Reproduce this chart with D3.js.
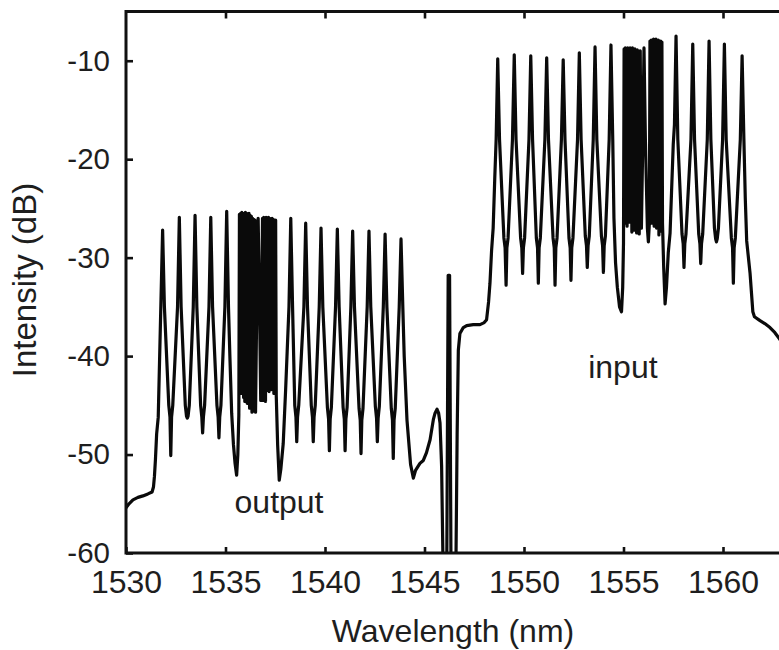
<!DOCTYPE html>
<html>
<head>
<meta charset="utf-8">
<script src="https://cdn.jsdelivr.net/npm/d3@7"></script>
<style>
  body { margin: 0; background: #fff; }
  svg { display: block; }
  text { font-family: "Liberation Sans", Arial, Helvetica, sans-serif; fill: #1e1e1e; }
</style>
</head>
<body>
<svg id="chart" width="779" height="650"></svg>
<script>
// Axis ticks
const xTicks = [1530, 1535, 1540, 1545, 1550, 1555, 1560];
const yTicks = [-60, -50, -40, -30, -20, -10];

// Spectrum trace, [wavelength (nm), intensity (dB)], split by region
const baseLeft = [
  [1530.00,-55.4],[1530.15,-55.0],[1530.35,-54.6],[1530.60,-54.35],[1530.85,-54.2],[1531.10,-54.0],
  [1531.31,-53.8],[1531.38,-53.3],[1531.43,-52.2],[1531.48,-50.5],[1531.54,-47.9],[1531.62,-46.2],[1531.68,-41.0]
];

const outputComb = [
  [1531.75,-35.0],[1531.84,-27.2],[1531.93,-35.0],
  [1532.15,-45.0],[1532.21,-46.2],[1532.25,-50.1],[1532.29,-46.2],[1532.35,-45.0],
  [1532.59,-35.0],[1532.68,-25.9],[1532.77,-35.0],
  [1532.98,-45.0],[1533.04,-46.1],[1533.08,-46.3],[1533.12,-46.1],[1533.18,-45.0],
  [1533.38,-35.0],[1533.47,-25.7],[1533.56,-35.0],
  [1533.75,-45.0],[1533.81,-46.2],[1533.85,-47.8],[1533.89,-46.2],[1533.95,-45.0],
  [1534.17,-35.0],[1534.26,-25.9],[1534.35,-35.0],
  [1534.57,-45.0],[1534.63,-46.2],[1534.67,-48.3],[1534.71,-46.2],[1534.77,-45.0],
  [1534.97,-35.0],[1535.06,-25.3],[1535.15,-35.0],
  [1535.22,-40.0],[1535.31,-45.8],[1535.40,-49.0],[1535.48,-50.9],[1535.56,-52.1],[1535.62,-50.0],[1535.67,-46.0],
  [1535.70,-25.6],[1535.73,-43.2],[1535.76,-25.5],[1535.79,-43.8],[1535.82,-25.4],[1535.85,-43.0],[1535.88,-25.5],
  [1535.91,-44.2],[1535.94,-25.6],[1535.97,-44.6],[1536.00,-25.4],[1536.03,-44.0],[1536.06,-25.5],[1536.09,-44.8],
  [1536.12,-25.6],[1536.15,-44.4],[1536.18,-25.5],[1536.21,-45.3],[1536.24,-25.7],[1536.27,-45.0],[1536.30,-25.8],
  [1536.33,-45.7],[1536.36,-26.0],[1536.39,-45.2],[1536.42,-26.1],[1536.45,-45.6],[1536.48,-26.2],
  [1536.51,-45.7],[1536.57,-35.0],[1536.64,-26.0],[1536.71,-35.0],[1536.77,-44.5],
  [1536.86,-26.0],[1536.89,-44.5],[1536.92,-25.9],[1536.95,-44.0],[1536.98,-26.0],[1537.01,-44.6],[1537.04,-25.9],
  [1537.07,-43.5],[1537.10,-26.0],[1537.13,-43.2],[1537.16,-25.9],[1537.19,-43.6],[1537.22,-26.0],[1537.25,-43.0],
  [1537.28,-26.1],[1537.31,-43.4],[1537.34,-26.0],[1537.37,-43.2],[1537.40,-26.1],[1537.43,-43.8],[1537.46,-26.2],
  [1537.49,-43.5],[1537.52,-26.2],[1537.55,-44.0],
  [1537.62,-49.0],[1537.70,-52.6],[1537.78,-51.5],[1537.90,-48.9],[1538.02,-43.5],[1538.10,-39.5],
  [1538.19,-35.0],[1538.28,-26.0],[1538.37,-35.0],
  [1538.48,-45.0],[1538.54,-46.2],[1538.58,-48.7],[1538.62,-46.2],[1538.68,-45.0],
  [1538.94,-35.0],[1539.03,-26.5],[1539.12,-35.0],
  [1539.31,-45.0],[1539.37,-46.2],[1539.41,-48.7],[1539.45,-46.2],[1539.51,-45.0],
  [1539.71,-35.0],[1539.80,-27.0],[1539.89,-35.0],
  [1540.12,-45.2],[1540.18,-46.4],[1540.22,-49.6],[1540.26,-46.4],[1540.32,-45.2],
  [1540.53,-35.0],[1540.62,-27.1],[1540.71,-35.0],
  [1540.91,-45.2],[1540.97,-46.4],[1541.01,-49.6],[1541.05,-46.4],[1541.11,-45.2],
  [1541.30,-35.0],[1541.39,-27.3],[1541.48,-35.0],
  [1541.71,-45.3],[1541.77,-46.5],[1541.81,-49.9],[1541.85,-46.5],[1541.91,-45.3],
  [1542.12,-35.0],[1542.21,-27.3],[1542.30,-35.0],
  [1542.53,-45.1],[1542.59,-46.3],[1542.63,-48.7],[1542.67,-46.3],[1542.73,-45.1],
  [1542.93,-35.0],[1543.02,-27.6],[1543.11,-35.0],
  [1543.33,-45.3],[1543.39,-46.5],[1543.43,-50.4],[1543.47,-46.5],[1543.53,-45.3],
  [1543.73,-35.0],[1543.82,-28.1],[1543.91,-35.0]
];

const gapRegion = [
  [1543.98,-40.0],[1544.12,-46.5],[1544.30,-51.0],[1544.44,-52.4],[1544.55,-51.6],[1544.77,-50.9],
  [1544.94,-50.6],[1545.10,-49.8],[1545.28,-48.5],[1545.45,-46.4],[1545.53,-45.8],[1545.63,-45.4],
  [1545.71,-45.8],[1545.78,-46.8],[1545.86,-51.2],[1545.93,-61.0],[1546.12,-61.0],[1546.19,-31.8],
  [1546.26,-31.8],[1546.33,-61.0],[1546.58,-61.0],[1546.64,-48.0],[1546.70,-39.4],[1546.78,-37.7],
  [1546.95,-37.1],[1547.12,-36.9],[1547.45,-36.8],[1547.79,-36.8],[1548.00,-36.6],[1548.12,-36.3],
  [1548.22,-34.5],[1548.29,-32.6],[1548.37,-29.3],[1548.45,-27.0],[1548.53,-22.0]
];

const inputComb = [
  [1548.60,-18.0],[1548.68,-9.8],[1548.77,-18.0],
  [1548.99,-28.0],[1549.05,-29.0],[1549.10,-32.8],[1549.14,-29.0],[1549.20,-28.0],
  [1549.42,-18.0],[1549.51,-9.4],[1549.60,-18.0],
  [1549.83,-28.0],[1549.89,-29.0],[1549.93,-31.6],[1549.97,-29.0],[1550.03,-28.0],
  [1550.25,-18.0],[1550.34,-9.5],[1550.43,-18.0],
  [1550.62,-28.0],[1550.68,-29.0],[1550.72,-32.6],[1550.76,-29.0],[1550.82,-28.0],
  [1551.05,-18.0],[1551.14,-9.7],[1551.23,-18.0],
  [1551.46,-28.0],[1551.52,-29.0],[1551.56,-32.8],[1551.60,-29.0],[1551.66,-28.0],
  [1551.88,-18.0],[1551.97,-9.9],[1552.06,-18.0],
  [1552.26,-28.0],[1552.32,-29.0],[1552.36,-32.3],[1552.40,-29.0],[1552.46,-28.0],
  [1552.69,-18.0],[1552.78,-9.2],[1552.87,-18.0],
  [1553.08,-27.8],[1553.14,-28.8],[1553.18,-31.0],[1553.22,-28.8],[1553.28,-27.8],
  [1553.48,-18.0],[1553.57,-8.6],[1553.66,-18.0],
  [1553.89,-27.8],[1553.95,-28.8],[1553.99,-31.5],[1554.03,-28.8],[1554.09,-27.8],
  [1554.28,-18.0],[1554.37,-8.4],[1554.46,-18.0],
  [1554.52,-26.0],[1554.60,-30.5],[1554.69,-33.0],[1554.80,-35.0],[1554.90,-35.5],[1554.96,-33.0],[1555.00,-28.5],
  [1555.03,-8.8],[1555.06,-26.5],[1555.09,-8.7],[1555.12,-26.2],[1555.15,-8.8],[1555.18,-26.8],[1555.21,-8.7],
  [1555.24,-26.0],[1555.27,-8.8],[1555.30,-26.4],[1555.33,-8.7],[1555.36,-26.2],[1555.39,-8.8],[1555.42,-27.4],
  [1555.45,-8.7],[1555.48,-26.6],[1555.51,-8.8],[1555.54,-27.2],[1555.57,-8.8],[1555.60,-26.3],[1555.63,-8.9],
  [1555.66,-27.5],[1555.69,-8.9],[1555.72,-26.8],[1555.75,-9.0],
  [1555.79,-27.6],[1555.84,-9.0],[1555.90,-27.0],[1555.97,-18.0],[1556.03,-8.7],[1556.10,-18.0],
  [1556.20,-27.0],[1556.25,-28.4],[1556.30,-26.5],
  [1556.33,-8.0],[1556.36,-26.0],[1556.39,-7.9],[1556.42,-26.5],[1556.45,-7.9],[1556.48,-25.9],[1556.51,-7.8],
  [1556.54,-26.8],[1556.57,-7.9],[1556.60,-26.2],[1556.63,-7.8],[1556.66,-27.0],[1556.69,-7.9],[1556.72,-26.4],
  [1556.75,-7.9],[1556.78,-27.7],[1556.81,-8.0],[1556.84,-26.6],[1556.87,-8.0],[1556.90,-27.3],[1556.93,-8.1],
  [1556.96,-26.5],
  [1557.02,-31.0],[1557.09,-34.7],[1557.16,-33.0],[1557.25,-29.5],[1557.34,-27.5],[1557.50,-18.5],
  [1557.56,-16.5],[1557.64,-7.5],[1557.73,-18.0],
  [1557.94,-27.6],[1558.00,-28.6],[1558.04,-31.0],[1558.08,-28.6],[1558.14,-27.6],
  [1558.39,-18.0],[1558.48,-8.3],[1558.57,-18.0],
  [1558.78,-27.6],[1558.84,-28.6],[1558.88,-30.6],[1558.92,-28.6],[1558.98,-27.6],
  [1559.21,-18.0],[1559.30,-8.0],[1559.39,-18.0],
  [1559.57,-27.0],[1559.63,-28.1],[1559.67,-28.4],[1559.71,-28.1],[1559.77,-27.0],
  [1559.98,-18.0],[1560.07,-8.3],[1560.16,-18.0],
  [1560.42,-28.0],[1560.48,-29.0],[1560.52,-32.6],[1560.56,-29.0],[1560.62,-28.0],
  [1560.87,-18.0],[1560.96,-9.5],[1561.05,-18.0]
];

const tailRight = [
  [1561.12,-24.0],[1561.19,-28.3],[1561.36,-31.6],[1561.50,-35.5],[1561.58,-36.0],[1561.86,-36.4],
  [1562.10,-36.7],[1562.36,-37.1],[1562.60,-37.6],[1562.78,-38.1],[1563.00,-38.7],[1563.40,-39.6]
];

// Curve annotations, anchored in data coordinates
const annotations = [
  { text: "output", wl: 1537.69, db: -55.9 },
  { text: "input",  wl: 1554.97, db: -42.2 }
];

const spectrum = [...baseLeft, ...outputComb, ...gapRegion, ...inputComb, ...tailRight];

// Layout
const svg = d3.select("#chart");
const plotLeft = 126, plotTop = 11.5, plotBottom = 553;
const pxPerNm = 19.9;

const x = d3.scaleLinear().domain([1530, 1565]).range([plotLeft, plotLeft + 35 * pxPerNm]);
const y = d3.scaleLinear().domain([-60, -5]).range([plotBottom, plotTop]);

svg.append("defs").append("clipPath").attr("id", "plotClip")
  .append("rect")
  .attr("x", plotLeft).attr("y", plotTop)
  .attr("width", x(1565) - plotLeft).attr("height", plotBottom - plotTop);

// Trace
const line = d3.line().x(d => x(d[0])).y(d => y(d[1])).curve(d3.curveLinear);
svg.append("path")
  .datum(spectrum)
  .attr("clip-path", "url(#plotClip)")
  .attr("fill", "none")
  .attr("stroke", "#0a0a0a")
  .attr("stroke-width", 3.2)
  .attr("stroke-linejoin", "round")
  .attr("stroke-linecap", "round")
  .attr("d", line);

const plainInt = d => String(d);

// Bottom axis, ticks pointing into the plot
const xAxis = svg.append("g")
  .attr("transform", `translate(0,${plotBottom})`)
  .call(d3.axisBottom(x).tickValues(xTicks).tickFormat(plainInt)
    .tickSizeInner(-6).tickSizeOuter(0).tickPadding(17.3));
xAxis.select(".domain").remove();
xAxis.selectAll(".tick line").attr("stroke", "#111").attr("stroke-width", 2.6);
xAxis.selectAll(".tick text").attr("font-size", 32).attr("fill", "#1e1e1e")
  .style("font-family", '"Liberation Sans", Arial, sans-serif');

// Top axis, ticks only
const xTop = svg.append("g")
  .attr("transform", `translate(0,${plotTop})`)
  .call(d3.axisTop(x).tickValues(xTicks.slice(1)).tickSizeInner(-7).tickSizeOuter(0).tickFormat(""));
xTop.select(".domain").remove();
xTop.selectAll(".tick line").attr("stroke", "#111").attr("stroke-width", 2.6);

// Left axis
const yAxis = svg.append("g")
  .attr("transform", `translate(${plotLeft},0)`)
  .call(d3.axisLeft(y).tickValues(yTicks).tickFormat(plainInt)
    .tickSizeInner(-7).tickSizeOuter(0).tickPadding(16));
yAxis.select(".domain").remove();
yAxis.selectAll(".tick line").attr("stroke", "#111").attr("stroke-width", 2.6);
yAxis.selectAll(".tick text").attr("font-size", 29.5).attr("fill", "#1e1e1e")
  .style("font-family", '"Liberation Sans", Arial, sans-serif');

// Frame: left, top and bottom edges (right edge falls past the view)
svg.append("path")
  .attr("fill", "none")
  .attr("stroke", "#111")
  .attr("stroke-width", 3)
  .attr("d", `M${x(1565)},${plotTop} H${plotLeft} V${plotBottom} H${x(1565)}`);

// Axis titles
svg.append("text")
  .attr("x", 453).attr("y", 642)
  .attr("text-anchor", "middle")
  .attr("font-size", 32)
  .text("Wavelength (nm)");

svg.append("text")
  .attr("transform", "translate(36,280) rotate(-90)")
  .attr("text-anchor", "middle")
  .attr("font-size", 33)
  .text("Intensity (dB)");

// Curve labels
svg.selectAll(".curve-label")
  .data(annotations)
  .join("text")
  .attr("class", "curve-label")
  .attr("x", d => x(d.wl))
  .attr("y", d => y(d.db))
  .attr("text-anchor", "middle")
  .attr("font-size", 32)
  .text(d => d.text);
</script>
</body>
</html>
